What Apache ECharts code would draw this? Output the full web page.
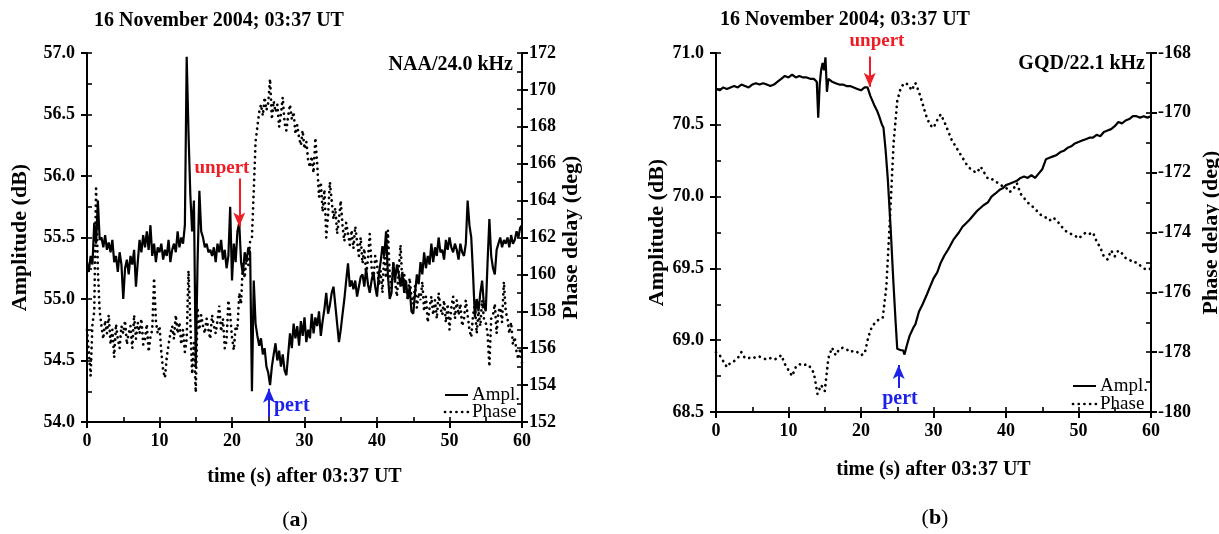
<!DOCTYPE html>
<html><head><meta charset="utf-8">
<script src="https://cdn.jsdelivr.net/npm/echarts@6/dist/echarts.min.js"></script>
<style>html,body{margin:0;padding:0;background:#fff}#c{width:1219px;height:534px}</style>
</head><body><div id="c"></div>
<script>
// ---------- data ----------
const titleText = '16 November 2004; 03:37 UT';
const xName = 'time (s) after 03:37 UT';
const leftStation = 'NAA/24.0 kHz';
const rightStation = 'GQD/22.1 kHz';
const xTicks = [0, 10, 20, 30, 40, 50, 60];

// left panel (NAA), sampled every 0.25 s
const leftStep = 0.25;
const leftAmp = [
 55.30,55.22,55.35,55.28, 55.62,55.45,55.80,55.48, 55.50,55.42,55.52,55.40, 55.46,55.38,55.48,55.30,
 55.35,55.22,55.38,55.28, 55.00,55.25,55.32,55.20, 55.35,55.28,55.40,55.10, 55.30,55.48,55.38,55.52,
 55.42,55.55,55.40,55.60, 55.35,55.45,55.30,55.42, 55.38,55.45,55.32,55.40, 55.35,55.48,55.30,55.40,
 55.45,55.38,55.55,55.42, 55.50,55.45,55.60,56.97, 56.35,55.85,55.55,55.80, 54.45,55.30,55.88,55.55,
 55.50,55.42,55.45,55.38, 55.40,55.35,55.42,55.30, 55.45,55.38,55.48,55.32, 55.40,55.25,55.35,55.75,
 55.15,55.45,55.30,55.55, 55.62,55.30,55.20,55.38, 55.30,55.42,55.38,54.25, 55.15,54.80,54.70,54.62,
 54.68,54.55,54.60,54.45, 54.40,54.30,54.45,54.55, 54.64,54.50,54.58,54.45, 54.55,54.42,54.38,54.55,
 54.72,54.60,54.80,54.68, 54.78,54.62,54.82,54.70, 54.85,54.65,54.75,54.68, 54.88,54.72,54.85,54.78,
 54.90,54.70,54.82,54.92, 55.05,54.88,54.95,55.05, 55.10,54.95,54.80,54.65, 54.75,54.88,55.00,55.15,
 55.29,55.10,55.15,55.08, 55.15,55.02,55.10,55.18, 55.20,55.10,55.25,55.12, 55.05,55.15,55.22,55.10,
 55.02,55.20,55.30,55.43, 55.35,55.55,55.20,55.00, 55.05,55.30,55.15,55.28, 55.20,55.10,55.22,55.05,
 55.15,55.00,55.10,54.90, 54.88,55.05,55.20,55.12, 55.30,55.20,55.38,55.25, 55.35,55.28,55.45,55.30,
 55.42,55.35,55.50,55.38, 55.40,55.32,55.48,55.40, 55.50,55.42,55.38,55.45, 55.40,55.32,55.45,55.38,
 55.35,55.45,55.80,55.60, 55.50,55.20,54.85,55.00, 54.90,55.05,55.15,54.95, 54.90,55.30,55.65,55.35,
 55.25,55.20,55.40,55.45, 55.50,55.42,55.48,55.45, 55.50,55.42,55.52,55.45, 55.48,55.55,55.50,55.58,
 55.60];
const leftPhase = [
 157.0,155.8,154.5,157.3, 158.0,164.8,160.2,158.0, 157.2,156.5,157.5,156.8, 157.8,156.2,157.0,155.5,
 157.3,156.5,156.0,157.2, 156.8,157.5,156.2,156.8, 157.2,156.0,157.8,156.5, 157.4,156.8,157.6,156.2,
 156.5,157.3,155.8,156.6, 157.0,159.8,157.5,156.8, 157.2,155.8,154.8,154.4, 155.5,156.2,156.8,157.2,
 156.5,157.8,156.8,157.4, 156.2,157.0,155.8,156.5, 160.2,157.5,154.6,156.3, 153.6,158.2,157.0,157.8,
 157.2,156.8,157.6,157.0, 156.5,157.8,157.2,156.8, 157.5,158.3,156.9,157.6, 156.0,156.4,158.6,157.8,
 156.6,155.9,157.2,157.0, 159.0,158.4,160.6,159.8, 161.0,160.5,161.8,162.0, 164.5,167.2,168.0,168.8,
 169.2,168.6,169.6,168.9, 169.3,170.6,168.4,169.4, 168.8,169.2,168.0,168.7, 169.6,168.2,167.8,168.6,
 169.2,168.4,168.8,167.6, 168.1,167.4,167.0,167.8, 166.8,167.2,166.2,165.8, 166.4,165.5,167.4,166.0,
 164.2,165.0,163.4,164.6, 162.0,163.2,165.0,164.0, 163.0,163.6,162.2,163.0, 164.0,162.6,161.8,162.8,
 162.2,161.6,162.4,161.4, 162.6,161.8,161.0,162.0, 160.6,161.4,160.0,160.8, 162.2,160.4,159.6,161.0,
 160.6,159.4,160.2,159.0, 161.2,159.8,162.4,160.0, 159.2,160.6,159.6,158.8, 160.2,161.6,159.4,160.0,
 159.2,158.6,159.8,158.8, 158.4,159.4,158.2,159.0, 158.6,159.6,158.0,158.8, 157.4,158.2,158.8,157.8,
 158.6,157.6,159.0,158.2, 157.8,158.6,157.4,158.4, 157.0,158.2,158.8,157.6, 158.6,157.8,158.4,157.2,
 157.6,158.6,157.8,157.0, 156.6,157.8,158.4,156.8, 158.0,157.2,158.6,157.6, 157.4,156.8,155.0,157.6,
 157.8,158.4,156.8,158.0, 158.2,157.4,159.6,158.0, 157.6,156.8,157.4,156.2, 156.6,155.8,155.4,156.0,
 155.2];

// right panel (GQD)
const rightAmpT = [
 0,0.5,1,1.5,2,2.5,3,3.5,4,4.5,5,5.5,6,6.5,7,7.5,8,8.5,9,9.5,10,10.5,11,11.5,12,12.5,13,13.5,
 13.9,14.1,14.3,14.5,14.7,14.9,15.1,15.3,15.5,16,16.5,17,17.5,18,18.5,19,19.5,20,20.5,20.9,21.3,21.8,
 22.2,22.5,22.9,23.1,23.4,23.7,24.1,24.45,24.77,25.0,25.5,25.8,26.0,26.3,26.7,27.25,27.5,28,28.5,29.1,
 29.5,30,30.5,31,31.5,32,32.75,33,33.5,34,34.6,35,35.5,36,36.9,37.5,38,38.5,39.2,39.6,40,40.5,41,41.5,
 42,42.5,43,43.5,44,44.5,45,45.5,46,46.5,47,47.5,48,48.5,49,49.5,50,50.5,51,51.5,52,52.5,53,53.5,
 54,54.5,55,55.5,56,56.5,57,57.5,58,58.5,59,59.5,60];
const rightAmp = [
 70.75,70.74,70.76,70.75,70.76,70.77,70.76,70.78,70.77,70.76,70.78,70.79,70.78,70.79,70.78,70.77,70.78,70.80,70.82,70.84,70.83,70.85,70.83,70.84,70.83,70.83,70.82,70.82,
 70.80,70.55,70.78,70.88,70.93,70.88,70.97,70.73,70.82,70.80,70.79,70.78,70.78,70.77,70.77,70.76,70.75,70.74,70.76,70.76,70.70,70.64,
 70.60,70.56,70.50,70.48,70.32,70.12,69.77,69.42,69.13,68.94,68.93,68.93,68.90,68.96,69.03,69.09,69.11,69.20,69.25,69.32,
 69.37,69.43,69.47,69.54,69.59,69.63,69.70,69.71,69.75,69.79,69.82,69.84,69.87,69.90,69.94,69.96,70.00,70.02,70.05,70.06,70.08,70.09,70.10,70.11,
 70.13,70.14,70.13,70.15,70.13,70.16,70.19,70.26,70.27,70.28,70.29,70.31,70.32,70.34,70.35,70.37,70.38,70.39,70.40,70.41,70.41,70.43,70.42,70.45,
 70.46,70.47,70.49,70.52,70.51,70.53,70.54,70.56,70.56,70.55,70.56,70.55,70.56];
const rightPhaseStep = 0.5;
const rightPhase = [
 -178.0,-178.1,-178.3,-178.5,-178.35,-178.3,-178.2,-178.0,-178.2,-178.2,-178.15,-178.2,-178.15,-178.2,-178.25,-178.2,
 -178.25,-178.2,-178.1,-178.4,-178.6,-178.8,-178.5,-178.4,-178.45,-178.4,-178.5,-178.7,-179.4,-179.1,-179.3,-178.2,
 -177.85,-178.1,-177.9,-177.85,-177.9,-178.0,-177.95,-178.0,-178.1,-178.05,-177.5,-177.15,-177.0,-176.9,-176.85,-175.8,
 -173.5,-171.0,-169.6,-169.15,-169.0,-169.05,-169.25,-169.0,-169.3,-169.7,-170.1,-170.4,-170.5,-170.25,-170.05,-170.3,
 -170.6,-170.9,-171.1,-171.3,-171.5,-171.7,-171.85,-171.95,-172.0,-171.8,-172.0,-172.2,-172.2,-172.3,-172.35,-172.45,
 -172.5,-172.65,-172.55,-172.35,-172.7,-172.85,-173.0,-173.1,-173.2,-173.35,-173.45,-173.5,-173.6,-173.5,-173.6,-173.75,
 -173.9,-174.0,-174.05,-174.1,-174.2,-174.1,-174.0,-174.05,-174.0,-174.3,-174.5,-174.8,-174.9,-174.6,-174.8,-174.6,
 -174.7,-174.85,-174.9,-175.0,-175.0,-175.1,-175.2,-175.25,-175.2];

// annotation arrows, in data units [t, from, to]
const leftUnpert = [21.0, 55.98, 55.59];
const leftPert = [25.1, 54.04, 54.27];
const rightUnpert = [21.2, 70.975, 70.765];
const rightPert = [25.2, 68.667, 68.827];

// ---------- build ----------
const FF = '"Liberation Serif", "Times New Roman", serif';
const RED = '#ee1c24', BLUE = '#1c22e8';
const DOTS = [0.1, 5.6];
const pairs = (arr, step) => arr.map((v, i) => [i * step, v]);
const zip = (ts, vs) => ts.map((t, i) => [t, vs[i]]);

const lab = {color: '#000', fontFamily: FF, fontWeight: 'bold', fontSize: 18};
const nameStyle = (sz) => ({color: '#000', fontFamily: FF, fontWeight: 'bold', fontSize: sz});
const axLine = {show: true, onZero: false, lineStyle: {color: '#000', width: 2}};
const outTick = {show: true, inside: false, length: 6, lineStyle: {color: '#000', width: 2}};
const inTick = {show: true, inside: true, length: 5, lineStyle: {color: '#000', width: 1.6}};

function mainX(grid, gap) {
  return {gridIndex: grid, type: 'value', min: 0, max: 60, interval: 10,
    axisLine: axLine, axisTick: outTick, splitLine: {show: false},
    axisLabel: Object.assign({margin: 10}, lab),
    name: xName, nameLocation: 'middle', nameGap: gap, nameTextStyle: nameStyle(20)};
}
function innerX(grid) {
  return {gridIndex: grid, type: 'value', min: 0, max: 60, interval: 5,
    axisLine: {show: false}, axisTick: inTick, axisLabel: {show: false}, splitLine: {show: false}};
}
function mainY(grid, pos, min, max, interval, name, gap, fmt) {
  return {gridIndex: grid, type: 'value', position: pos, min, max, interval,
    axisLine: axLine, axisTick: outTick, splitLine: {show: false},
    axisLabel: Object.assign({margin: pos === 'left' ? 12 : 7, formatter: fmt}, lab),
    name, nameLocation: 'middle', nameGap: gap, nameTextStyle: nameStyle(22)};
}
function innerY(grid, pos, min, max, interval) {
  return {gridIndex: grid, type: 'value', position: pos, min, max, interval,
    axisLine: {show: false}, axisTick: inTick, axisLabel: {show: false}, splitLine: {show: false}};
}
const f1 = v => v.toFixed(1);
const f0 = v => String(Math.round(v));

function arrow(a, color) {
  return [{coord: [a[0], a[1]], lineStyle: {color, width: 2, type: 'solid'}, itemStyle: {color}},
          {coord: [a[0], a[2]]}];
}
const ampLine = (xi, yi, data, arrows, w) => ({
  type: 'line', xAxisIndex: xi, yAxisIndex: yi, data, showSymbol: false, symbol: 'none',
  lineStyle: {color: '#000', width: w}, z: 3, silent: true,
  markLine: {silent: true, symbol: ['none', 'arrow'], symbolSize: [9, 14], label: {show: false},
    animation: false, data: arrows}
});
const phaseLine = (xi, yi, data) => ({
  type: 'line', xAxisIndex: xi, yAxisIndex: yi, data, showSymbol: false, symbol: 'none',
  lineStyle: {color: '#000', width: 2.7, type: DOTS, cap: 'round'}, z: 2, silent: true
});

function txt(text, x, y, opts) {
  return {type: 'text', silent: true, style: Object.assign({
    text, x, y, fill: '#000', font: 'bold 20px ' + FF,
    textAlign: 'left', textVerticalAlign: 'middle', align: 'left', verticalAlign: 'middle'}, opts || {})};
}
function legendBlock(x, yA, yP) {
  return [
    {type: 'line', silent: true, shape: {x1: x, y1: yA, x2: x + 23, y2: yA}, style: {stroke: '#000', lineWidth: 2}},
    {type: 'line', silent: true, shape: {x1: x, y1: yP, x2: x + 23, y2: yP},
      style: {stroke: '#000', lineWidth: 2.7, lineDash: DOTS, lineCap: 'round'}},
    txt('Ampl.', x + 27, yA, {font: '19px ' + FF}),
    txt('Phase', x + 27, yP, {font: '19px ' + FF})
  ];
}
function caption(letter, cx, cy) {
  return {type: 'text', silent: true, style: {text: '({b|' + letter + '})', x: cx, y: cy,
    fill: '#000', font: '22px ' + FF, textAlign: 'center', textVerticalAlign: 'middle',
    align: 'center', verticalAlign: 'middle',
    rich: {b: {fontWeight: 'bold', fontSize: 22, fontFamily: FF}}}};
}

const G1 = {left: 87, top: 53, width: 435, height: 369, outerBoundsMode: 'none', containLabel: false};
const G2 = {left: 716, top: 53, width: 435, height: 359, outerBoundsMode: 'none', containLabel: false};

const option = {
  animation: false,
  backgroundColor: '#fff',
  textStyle: {fontFamily: FF},
  grid: [G1, Object.assign({}, G1), G2, Object.assign({}, G2)],
  xAxis: [mainX(0, 45), innerX(1), mainX(2, 48), innerX(3)],
  yAxis: [
    mainY(0, 'left', 54, 57, 0.5, 'Amplitude (dB)', 56, f1),
    mainY(0, 'right', 152, 172, 2, 'Phase delay (deg)', 38, f0),
    innerY(1, 'left', 54, 57, 0.25),
    innerY(1, 'right', 152, 172, 1),
    mainY(2, 'left', 68.5, 71, 0.5, 'Amplitude (dB)', 47, f1),
    mainY(2, 'right', -180, -168, 2, 'Phase delay (deg)', 49, f0),
    innerY(3, 'left', 68.5, 71, 0.25),
    innerY(3, 'right', -180, -168, 1)
  ],
  series: [
    phaseLine(0, 1, pairs(leftPhase, leftStep)),
    ampLine(0, 0, pairs(leftAmp, leftStep), [arrow(leftUnpert, RED), arrow(leftPert, BLUE)], 2.2),
    phaseLine(2, 5, pairs(rightPhase, rightPhaseStep)),
    ampLine(2, 4, zip(rightAmpT, rightAmp), [arrow(rightUnpert, RED), arrow(rightPert, BLUE)], 2.2)
  ],
  graphic: [].concat(
    [
      txt(titleText, 94, 21),
      txt(titleText, 720, 20),
      txt(leftStation, 513, 65, {textAlign: 'right', align: 'right'}),
      txt(rightStation, 1145, 64, {textAlign: 'right', align: 'right'}),
      txt('unpert', 222, 168, {fill: RED, textAlign: 'center', align: 'center', font: 'bold 19px ' + FF}),
      txt('pert', 274, 406, {fill: BLUE}),
      txt('unpert', 877, 41, {fill: RED, textAlign: 'center', align: 'center', font: 'bold 19px ' + FF}),
      txt('pert', 900, 399, {fill: BLUE, textAlign: 'center', align: 'center'}),
      caption('a', 295, 520),
      caption('b', 935, 518)
    ],
    legendBlock(445, 395, 412),
    legendBlock(1073, 386, 404)
  )
};
const chart = echarts.init(document.getElementById('c'), null, {renderer: 'canvas'});
chart.setOption(option);
</script></body></html>
